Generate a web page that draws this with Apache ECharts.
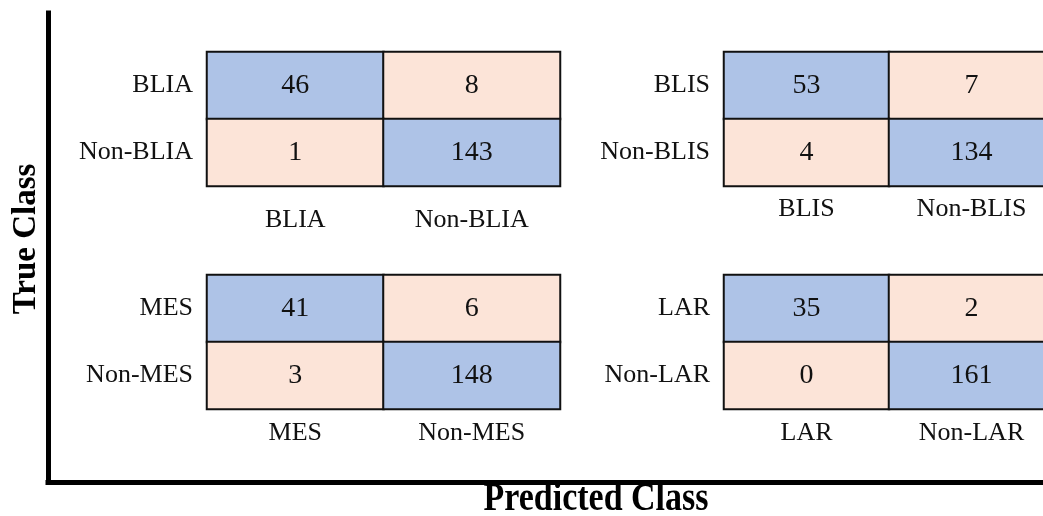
<!DOCTYPE html>
<html>
<head>
<meta charset="utf-8">
<script src="https://cdn.jsdelivr.net/npm/echarts@6/dist/echarts.min.js"></script>
<style>
  html, body { margin: 0; padding: 0; background: #fff; }
  #chart { width: 1043px; height: 516px; }
</style>
</head>
<body>
<div id="chart"></div>
<script>
// Confusion matrices for four one-vs-rest subtype classifiers.
// Rows are the true class, columns the predicted class.
const subtypes = ['BLIA', 'BLIS', 'MES', 'LAR'];
const bliaMatrix = [[46, 8], [1, 143]];
const blisMatrix = [[53, 7], [4, 134]];
const mesMatrix  = [[41, 6], [3, 148]];
const larMatrix  = [[35, 2], [0, 161]];
const matrices = [bliaMatrix, blisMatrix, mesMatrix, larMatrix];

const xTitle = 'Predicted Class';
const yTitle = 'True Class';

const correctColor = '#aec3e7';
const wrongColor = '#fce4d8';
const serif = '"Liberation Serif", "Times New Roman", serif';

// panel placement: [left, top, width, height, column-label margin]
const panels = [
  [207, 52, 353, 134, 21],
  [724, 52, 330, 134, 10],
  [207, 275, 353, 134, 11],
  [724, 275, 330, 134, 11]
];

const grids = [], xAxes = [], yAxes = [], series = [];

subtypes.forEach(function (name, i) {
  const p = panels[i];
  const labels = [name, 'Non-' + name];
  grids.push({
    left: p[0], top: p[1], width: p[2], height: p[3],
    containLabel: false, outerBoundsMode: 'none'
  });
  xAxes.push({
    type: 'category', gridIndex: i, data: labels,
    axisLine: { show: false }, axisTick: { show: false }, splitLine: { show: false },
    axisLabel: { margin: p[4], fontFamily: serif, fontSize: 26, color: '#111' }
  });
  yAxes.push({
    type: 'category', gridIndex: i, data: labels, inverse: true,
    axisLine: { show: false }, axisTick: { show: false }, splitLine: { show: false },
    axisLabel: { margin: 14, fontFamily: serif, fontSize: 26, color: '#111' }
  });
  const cells = [];
  matrices[i].forEach(function (row, r) {
    row.forEach(function (v, c) {
      cells.push({
        value: [c, r, v],
        itemStyle: { color: r === c ? correctColor : wrongColor }
      });
    });
  });
  series.push({
    type: 'heatmap', xAxisIndex: i, yAxisIndex: i, data: cells,
    itemStyle: { borderColor: '#111', borderWidth: 2 },
    label: {
      show: true, fontFamily: serif, fontSize: 28, color: '#111',
      formatter: function (d) { return d.value[2]; }
    },
    emphasis: { disabled: true }
  });
});

// outer frame: a bare grid whose axis lines form the L-shaped border
grids.push({ left: 48, top: 13, right: 0, bottom: 34, containLabel: false, outerBoundsMode: 'none' });
xAxes.push({
  type: 'value', gridIndex: 4, min: 0, max: 1,
  axisLine: { show: true, onZero: false, lineStyle: { color: '#000', width: 5, cap: 'square' } },
  axisTick: { show: false }, axisLabel: { show: false }, splitLine: { show: false }
});
yAxes.push({
  type: 'value', gridIndex: 4, min: 0, max: 1,
  axisLine: { show: true, onZero: false, lineStyle: { color: '#000', width: 5, cap: 'square' } },
  axisTick: { show: false }, axisLabel: { show: false }, splitLine: { show: false }
});

const chart = echarts.init(document.getElementById('chart'), null, { renderer: 'canvas' });
chart.setOption({
  backgroundColor: '#fff',
  animation: false,
  tooltip: { show: false },
  grid: grids,
  xAxis: xAxes,
  yAxis: yAxes,
  series: series,
  graphic: [
    {
      type: 'text', x: 596, y: 499, scaleY: 1.2,
      style: {
        text: xTitle, fontFamily: serif, fontSize: 34, fontWeight: 'bold',
        fill: '#000', align: 'center', verticalAlign: 'middle'
      }
    },
    {
      type: 'text', x: 26, y: 239, rotation: Math.PI / 2,
      style: {
        text: yTitle, fontFamily: serif, fontSize: 33, fontWeight: 'bold',
        fill: '#000', align: 'center', verticalAlign: 'middle'
      }
    }
  ]
});
</script>
</body>
</html>
